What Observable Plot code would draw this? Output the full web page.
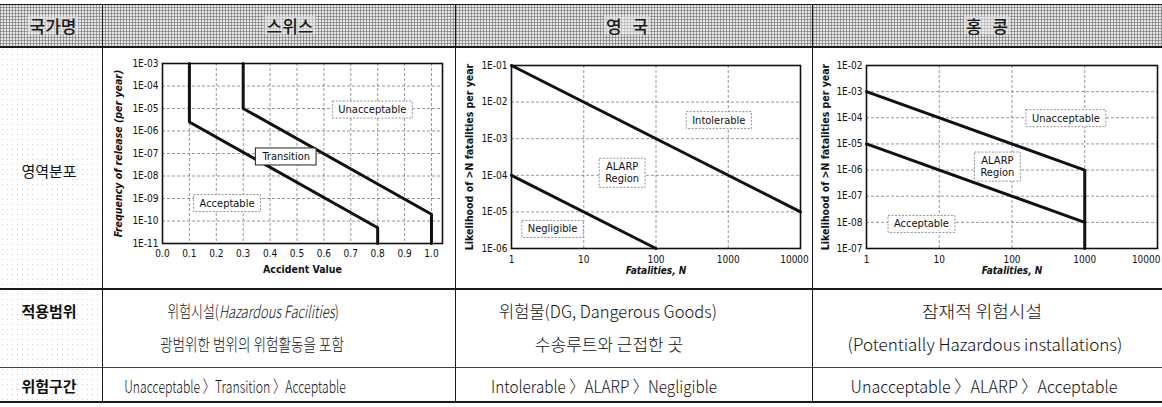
<!DOCTYPE html>
<html><head><meta charset="utf-8">
<script src="https://cdn.jsdelivr.net/npm/d3@7"></script>
<script src="https://cdn.jsdelivr.net/npm/@observablehq/plot@0.6"></script>
<style>
body{margin:0;background:#fff;}
#page{position:relative;width:1162px;height:407px;overflow:hidden;font-family:"Noto Sans CJK KR",sans-serif;color:#111;}
.hdr{position:absolute;left:0;top:5px;width:1162px;height:42px;background-color:#e6e6e6;
 background-image:repeating-linear-gradient(0deg,rgba(110,110,110,.6) 0 1px,transparent 1px 3px),repeating-linear-gradient(90deg,rgba(110,110,110,.6) 0 1px,transparent 1px 3px);}
.lab{position:absolute;left:0;top:47px;width:102px;height:356px;
 background-image:radial-gradient(rgba(120,120,120,.35) 0.6px,transparent 0.9px);background-size:5px 5px;}
.ln{position:absolute;background:#1a1a1a;}
.t{position:absolute;white-space:nowrap;line-height:1;}
.head{font-size:17px;font-weight:500;color:#1a1a1a;background:rgba(235,235,235,.55);padding:1px 2px;word-spacing:7px;}
.rowlab{font-size:15px;font-weight:500;}
.cell{font-size:17px;font-weight:300;color:#111;}
.chart{position:absolute;}
</style></head>
<body><div id="page"></div>
<script>
// ---------------- data ----------------
const headerLabels = ["국가명", "스위스", "영 국", "홍 콩"];
const rowLabels = ["영역분포", "적용범위", "위험구간"];
const scopeLine1 = ["위험시설(<i>Hazardous Facilities</i>)", "위험물(DG, Dangerous Goods)", "잠재적 위험시설"];
const scopeLine2 = ["광범위한 범위의 위험활동을 포함", "수송루트와 근접한 곳", "(Potentially Hazardous installations)"];
const riskOrder = ["Unacceptable 〉Transition 〉Acceptable", "Intolerable 〉ALARP 〉Negligible", "Unacceptable 〉ALARP 〉Acceptable"];

// Switzerland
const swissXTicks = [0, 0.1, 0.2, 0.3, 0.4, 0.5, 0.6, 0.7, 0.8, 0.9, 1.0];
const swissXLabels = ["0.0", "0.1", "0.2", "0.3", "0.4", "0.5", "0.6", "0.7", "0.8", "0.9", "1.0"];
const swissYTicks = [1e-3, 1e-4, 1e-5, 1e-6, 1e-7, 1e-8, 1e-9, 1e-10, 1e-11];
const swissYLabels = ["1E-03", "1E-04", "1E-05", "1E-06", "1E-07", "1E-08", "1E-09", "1E-10", "1E-11"];
const swissAcceptX = [0.1, 0.1, 0.8, 0.8];
const swissAcceptY = [1e-3, 2.5e-6, 5e-11, 1e-11];
const swissUnaccX = [0.3, 0.3, 1.0, 1.0];
const swissUnaccY = [1e-3, 1e-5, 2e-10, 1e-11];
const swissBoxText = ["Unacceptable", "Transition", "Acceptable"];
const swissBoxX = [0.78, 0.46, 0.24];
const swissBoxY = [9e-6, 7.4e-8, 6.3e-10];
const swissBoxStyle = ["dashed", "solid", "dashed"];
const swissXTitle = "Accident Value";
const swissYTitle = "Frequency of release (per year)";

// United Kingdom
const ukXTicks = [1, 10, 100, 1000, 10000];
const ukXLabels = ["1", "10", "100", "1000", "10000"];
const ukYTicks = [1e-1, 1e-2, 1e-3, 1e-4, 1e-5, 1e-6];
const ukYLabels = ["1E-01", "1E-02", "1E-03", "1E-04", "1E-05", "1E-06"];
const ukIntolN = [1, 10000];
const ukIntolF = [1e-1, 1e-5];
const ukNegN = [1, 100];
const ukNegF = [1e-4, 1e-6];
const ukBoxText = ["Intolerable", "ALARP\nRegion", "Negligible"];
const ukBoxN = [740, 34, 3.7];
const ukBoxF = [3.3e-3, 1.2e-4, 3.5e-6];
const ukBoxStyle = ["dashed", "dashed", "dashed"];
const ukBoxItalic = [false, false, true];
const ukXTitle = "Fatalities, N";
const ukYTitle = "Likelihood of >N fatalities per year";

// Hong Kong
const hkXTicks = [1, 10, 100, 1000, 10000];
const hkXLabels = ["1", "10", "100", "1000", "10000"];
const hkYTicks = [1e-2, 1e-3, 1e-4, 1e-5, 1e-6, 1e-7, 1e-8, 1e-9];
const hkYLabels = ["1E-02", "1E-03", "1E-04", "1E-05", "1E-06", "1E-07", "1E-08", "1E-07"];
const hkUnaccN = [1, 1000, 1000];
const hkUnaccF = [1e-3, 1e-6, 1e-9];
const hkAccN = [1, 1000];
const hkAccF = [1e-5, 1e-8];
const hkBoxText = ["Unacceptable", "ALARP\nRegion", "Acceptable"];
const hkBoxN = [550, 63, 5.7];
const hkBoxF = [1e-4, 1.4e-6, 9e-9];
const hkBoxStyle = ["dashed", "dashed", "dashed"];
const hkXTitle = "Fatalities, N";
const hkYTitle = "Likelihood of >N fatalities per year";

// ---------------- table ----------------
const page = document.getElementById("page");
function div(cls, css, html) {
  const d = document.createElement("div");
  d.className = cls; d.style.cssText = css || ""; if (html != null) d.innerHTML = html;
  page.appendChild(d); return d;
}
const tf = s => `transform:translate(-50%,-50%) scaleX(${s});`;
div("hdr");
div("lab");
const colCenters = [53, 290, 627, 987];
headerLabels.forEach((h, i) => div("t head", `left:${colCenters[i]}px;top:25px;` + tf(1), h));
const rowY = [170, 310, 385], rowW = [400, 600, 600];
rowLabels.forEach((r, i) => div("t rowlab", `left:49px;top:${rowY[i]}px;font-weight:${rowW[i]};` + tf(1), r));
const line1X = [253, 608, 982], line2X = [252, 609, 985], orderX = [235, 604, 984];
const line1S = [0.76, 0.97, 1.06], line2S = [0.8, 1.0, 1.0], orderS = [0.72, 0.9, 0.95];
scopeLine1.forEach((s, i) => div("t cell", `left:${line1X[i]}px;top:310px;` + tf(line1S[i]), s));
scopeLine2.forEach((s, i) => div("t cell", `left:${line2X[i]}px;top:343px;` + tf(line2S[i]), s));
riskOrder.forEach((s, i) => div("t cell", `left:${orderX[i]}px;top:385px;` + tf(orderS[i]), s));
// rules
div("ln", "left:0;top:4px;width:1162px;height:1px;");
div("ln", "left:0;top:46px;width:1162px;height:2px;");
div("ln", "left:0;top:288px;width:1162px;height:2px;");
div("ln", "left:0;top:367px;width:1162px;height:1px;background:#444;");
div("ln", "left:0;top:401px;width:1162px;height:2px;");
[102, 455, 812].forEach(x => div("ln", `left:${x}px;top:4px;width:1px;height:399px;`));

// ---------------- charts ----------------
const NARROW = `"Liberation Sans Narrow","Arial Narrow","DejaVu Sans Condensed",sans-serif`;
const gridStyle = {stroke: "#666", strokeOpacity: 0.85, strokeDasharray: "3,2", strokeWidth: 0.8};
const pts = (X, Y) => X.map((x, i) => ({x, y: Y[i]}));

function boxes(svg, texts, styles) {
  svg.querySelectorAll("text").forEach(t => {
    const sp = Array.from(t.querySelectorAll("tspan"));
    const key = sp.length ? sp.map(s => s.textContent).join("\n") : t.textContent;
    const idx = texts.indexOf(key);
    if (idx < 0) return;
    const b = t.getBBox();
    const r = document.createElementNS("http://www.w3.org/2000/svg", "rect");
    const padX = 6, padY = 2;
    r.setAttribute("x", b.x - padX); r.setAttribute("y", b.y - padY);
    r.setAttribute("width", b.width + 2 * padX); r.setAttribute("height", b.height + 2 * padY);
    r.setAttribute("fill", "white");
    r.setAttribute("stroke", styles[idx] === "solid" ? "#222" : "#777");
    r.setAttribute("stroke-width", styles[idx] === "solid" ? 1 : 0.8);
    if (styles[idx] !== "solid") r.setAttribute("stroke-dasharray", "2,1.5");
    const tr = t.getAttribute("transform");
    if (tr) r.setAttribute("transform", tr);
    t.parentNode.insertBefore(r, t);
  });
}

function place(svg, left, top) {
  const w = document.createElement("div");
  w.className = "chart"; w.style.left = left + "px"; w.style.top = top + "px";
  w.appendChild(svg); page.appendChild(w);
}

// Switzerland
const swissXMap = new Map(swissXTicks.map((d, i) => [d, swissXLabels[i]]));
const swissYMap = new Map(swissYTicks.map((d, i) => [d, swissYLabels[i]]));
const swiss = Plot.plot({
  width: 353, height: 241, marginLeft: 60, marginRight: 13, marginTop: 15, marginBottom: 46,
  style: {fontFamily: NARROW, fontSize: "10px", background: "transparent", color: "#111", overflow: "visible"},
  x: {domain: [0, 1.041]},
  y: {type: "log", domain: [1e-11, 1e-3]},
  marks: [
    Plot.gridX(swissXTicks, gridStyle),
    Plot.gridY(swissYTicks, gridStyle),
    Plot.axisX(swissXTicks, {tickSize: 0, tickPadding: 6, tickFormat: d => swissXMap.get(d), label: null}),
    Plot.axisY(swissYTicks, {tickSize: 0, tickPadding: 4, tickFormat: d => swissYMap.get(d), label: null}),
    Plot.frame({stroke: "#111", strokeWidth: 1.6}),
    Plot.line(pts(swissAcceptX, swissAcceptY), {x: "x", y: "y", stroke: "#111", strokeWidth: 3}),
    Plot.line(pts(swissUnaccX, swissUnaccY), {x: "x", y: "y", stroke: "#111", strokeWidth: 3}),
    Plot.text(swissBoxText, {x: (d, i) => swissBoxX[i], y: (d, i) => swissBoxY[i], text: d => d, fontSize: 11, fill: "#111"}),
    Plot.text([swissXTitle], {frameAnchor: "bottom", dy: 29, fontWeight: "bold", fontSize: 10.5}),
    Plot.text([swissYTitle], {frameAnchor: "left", textAnchor: "middle", dx: -44, rotate: -90, fontWeight: "bold", fontStyle: "italic", fontSize: 10.5, wordSpacing: "2px"})
  ]
});
place(swiss, 102, 48);
boxes(swiss, swissBoxText, swissBoxStyle);

// United Kingdom
const ukXMap = new Map(ukXTicks.map((d, i) => [d, ukXLabels[i]]));
const ukYMap = new Map(ukYTicks.map((d, i) => [d, ukYLabels[i]]));
const uk = Plot.plot({
  width: 357, height: 241, marginLeft: 56, marginRight: 12, marginTop: 17, marginBottom: 41,
  style: {fontFamily: NARROW, fontSize: "10px", background: "transparent", color: "#111", overflow: "visible"},
  x: {type: "log", domain: [1, 10000]},
  y: {type: "log", domain: [1e-6, 1e-1]},
  marks: [
    Plot.gridX(ukXTicks, gridStyle),
    Plot.gridY(ukYTicks, gridStyle),
    Plot.axisX(ukXTicks.slice(0, 4), {tickSize: 0, tickPadding: 7, tickFormat: d => ukXMap.get(d), label: null}),
    Plot.axisX(ukXTicks.slice(4), {tickSize: 0, tickPadding: 7, tickFormat: d => ukXMap.get(d), label: null, dx: -6}),
    Plot.axisY(ukYTicks, {tickSize: 0, tickPadding: 4, tickFormat: d => ukYMap.get(d), label: null}),
    Plot.frame({stroke: "#111", strokeWidth: 1.6}),
    Plot.line(pts(ukIntolN, ukIntolF), {x: "x", y: "y", stroke: "#111", strokeWidth: 3}),
    Plot.line(pts(ukNegN, ukNegF), {x: "x", y: "y", stroke: "#111", strokeWidth: 3}),
    Plot.text(ukBoxText, {x: (d, i) => ukBoxN[i], y: (d, i) => ukBoxF[i], text: d => d, fontSize: 11, fill: "#111", lineHeight: 1.1,
      fontStyle: (d, i) => ukBoxItalic[i] ? "italic" : "normal"}),
    Plot.text([ukXTitle], {frameAnchor: "bottom", dy: 25, fontWeight: "bold", fontStyle: "italic", fontSize: 10}),
    Plot.text([ukYTitle], {frameAnchor: "left", textAnchor: "middle", dx: -42, rotate: -90, fontWeight: "bold", fontSize: 10.5, wordSpacing: "2px"})
  ]
});
place(uk, 455, 48);
boxes(uk, ukBoxText, ukBoxStyle);

// Hong Kong
const hkXMap = new Map(hkXTicks.map((d, i) => [d, hkXLabels[i]]));
const hkYMap = new Map(hkYTicks.map((d, i) => [d, hkYLabels[i]]));
const hk = Plot.plot({
  width: 350, height: 241, marginLeft: 54, marginRight: 5, marginTop: 17, marginBottom: 41,
  style: {fontFamily: NARROW, fontSize: "10px", background: "transparent", color: "#111", overflow: "visible"},
  x: {type: "log", domain: [1, 10000]},
  y: {type: "log", domain: [1e-9, 1e-2]},
  marks: [
    Plot.gridX(hkXTicks, gridStyle),
    Plot.gridY(hkYTicks, gridStyle),
    Plot.axisX(hkXTicks.slice(0, 4), {tickSize: 0, tickPadding: 7, tickFormat: d => hkXMap.get(d), label: null}),
    Plot.axisX(hkXTicks.slice(4), {tickSize: 0, tickPadding: 7, tickFormat: d => hkXMap.get(d), label: null, textAnchor: "end", dx: 3}),
    Plot.axisY(hkYTicks, {tickSize: 0, tickPadding: 4, tickFormat: d => hkYMap.get(d), label: null}),
    Plot.frame({stroke: "#111", strokeWidth: 1.6}),
    Plot.line(pts(hkUnaccN, hkUnaccF), {x: "x", y: "y", stroke: "#111", strokeWidth: 3}),
    Plot.line(pts(hkAccN, hkAccF), {x: "x", y: "y", stroke: "#111", strokeWidth: 3}),
    Plot.text(hkBoxText, {x: (d, i) => hkBoxN[i], y: (d, i) => hkBoxF[i], text: d => d, fontSize: 11, fill: "#111", lineHeight: 1.1}),
    Plot.text([hkXTitle], {frameAnchor: "bottom", dy: 25, fontWeight: "bold", fontStyle: "italic", fontSize: 10}),
    Plot.text([hkYTitle], {frameAnchor: "left", textAnchor: "middle", dx: -41, rotate: -90, fontWeight: "bold", fontSize: 10.5, wordSpacing: "2px"})
  ]
});
place(hk, 812, 48);
boxes(hk, hkBoxText, hkBoxStyle);
</script></body></html>
